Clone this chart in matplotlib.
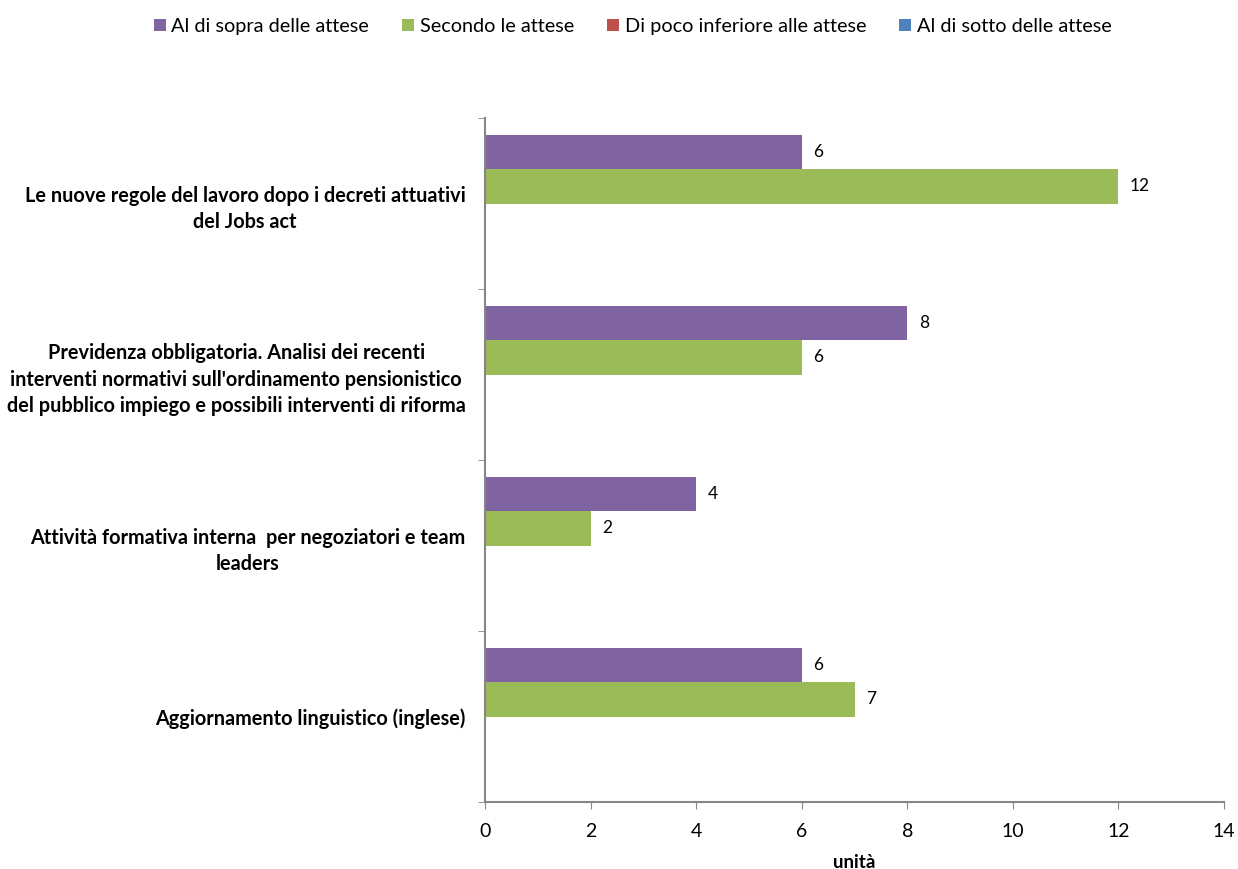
import numpy as np
import matplotlib.pyplot as plt

plt.rcParams['font.family'] = ['Lato', 'DejaVu Sans']

categories = [
    "Aggiornamento linguistico (inglese)",
    "Attività formativa interna  per negoziatori e team\nleaders",
    "Previdenza obbligatoria. Analisi dei recenti\ninterventi normativi sull'ordinamento pensionistico\ndel pubblico impiego e possibili interventi di riforma",
    "Le nuove regole del lavoro dopo i decreti attuativi\ndel Jobs act",
]
series_names = ["Al di sopra delle attese", "Secondo le attese",
                "Di poco inferiore alle attese", "Al di sotto delle attese"]
sopra = [6, 4, 8, 6]
secondo = [7, 2, 6, 12]
poco_inf = [0, 0, 0, 0]
sotto = [0, 0, 0, 0]
colors = ['#8064A2', '#9BBB59', '#C0504D', '#4F81BD']

fig = plt.figure(figsize=(12.38, 8.69), dpi=100)
ax = fig.add_axes([0.3918, 0.0771, 0.5969, 0.7871])

y = np.arange(len(categories))
h = 0.2
offsets = [0.3, 0.1, -0.1, -0.3]
handles = []
for vals, off, col, name in zip([sopra, secondo, poco_inf, sotto], offsets, colors, series_names):
    b = ax.barh(y + off, vals, h, color=col, label=name)
    handles.append(b)
    for yy, v in zip(y + off, vals):
        if v > 0:
            ax.text(v + 0.22, yy, str(v), va='center', ha='left', fontsize=12.5)

ax.set_xlim(0, 14)
ax.set_ylim(-0.5, 3.5)
ax.set_xticks(np.arange(0, 15, 2))
ax.set_yticks(y)
ax.set_yticklabels(categories, fontweight='bold', fontsize=14.3, ha='right',
                   multialignment='center', linespacing=1.4)
ax.tick_params(axis='y', which='major', length=0, pad=14)
ax.set_yticks(np.arange(-0.5, 4, 1), minor=True)
ax.tick_params(axis='y', which='minor', length=5, color='#868686')
ax.tick_params(axis='x', length=5, color='#868686', labelsize=14, pad=10)

for s in ['top', 'right']:
    ax.spines[s].set_visible(False)
for s in ['left', 'bottom']:
    ax.spines[s].set_color('#868686')
    ax.spines[s].set_linewidth(1.5)

ax.set_xlabel("unità", fontweight='bold', fontsize=13.5, labelpad=10)

fig.legend(handles=handles, labels=series_names, loc='upper center', bbox_to_anchor=(0.511, 1.0),
           ncol=4, frameon=False, fontsize=14.3, handlelength=0.6, handleheight=0.6,
           handletextpad=0.3, columnspacing=1.65)

plt.savefig('out.png', dpi=100)
